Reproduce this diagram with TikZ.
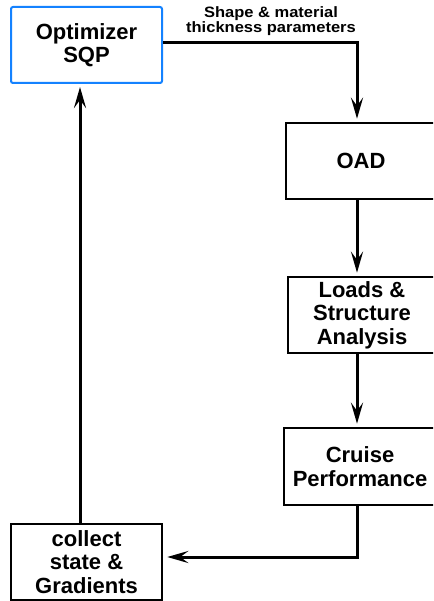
\documentclass[tikz,border=0pt]{standalone}
\usepackage{fontspec}
\setmainfont{Liberation Sans}[BoldFont={* Bold}]
\newfontfamily\labelfont{Liberation Sans}[FakeStretch=1.1,BoldFont={* Bold}]
\usetikzlibrary{arrows.meta}
\definecolor{optblue}{RGB}{20,130,255}
\begin{document}
\begin{tikzpicture}[x=1pt,y=-1pt,
  box/.style={draw=black,line width=2.5pt,fill=white,align=center,
    inner sep=0pt,font=\fontsize{22}{23.5}\selectfont\bfseries},
  flow/.style={line width=3pt,-{Stealth[length=21pt,width=12pt,inset=8pt]},shorten >=3pt}]
  \useasboundingbox (0,0) rectangle (433,601);
  \clip (0,0) rectangle (433,601);
  % processing blocks
  \node[box,draw=optblue,line width=2pt,rounded corners=2pt,
        minimum width=151pt,minimum height=76pt] (opt) at (86.5,45) {Optimizer\\SQP};
  \node[box,minimum width=150pt,minimum height=76pt] (oad) at (361,161) {OAD};
  \node[box,minimum width=148pt,minimum height=76pt] (loads) at (362,315) {Loads \&\\Structure\\Analysis};
  \node[box,minimum width=152pt,minimum height=77pt] (cruise) at (360,466.5) {Cruise\\Performance};
  \node[box,minimum width=151pt,minimum height=76pt] (coll) at (86.5,562) {collect\\state \&\\Gradients};
  % guide positions for the vertical connectors
  \coordinate (spine) at (357,0);
  \coordinate (back) at (80,0);
  \coordinate (ret) at (0,557);
  % connectors
  \draw[flow] (opt.east |- 0,43) -| (spine |- oad.north);
  \draw[flow] (spine |- oad.south) -- (spine |- loads.north);
  \draw[flow] (spine |- loads.south) -- (spine |- cruise.north);
  \draw[flow,shorten >=4pt] (cruise.south -| spine) |- (coll.east |- ret);
  \draw[flow] (back |- coll.north) -- (back |- opt.south);
  % data passed to the analysis chain
  \node[align=center,inner sep=0pt,font=\labelfont\fontsize{15}{13}\selectfont\bfseries]
    (lbl) at (271,21) {Shape \& material\\thickness parameters};
\end{tikzpicture}
\end{document}
